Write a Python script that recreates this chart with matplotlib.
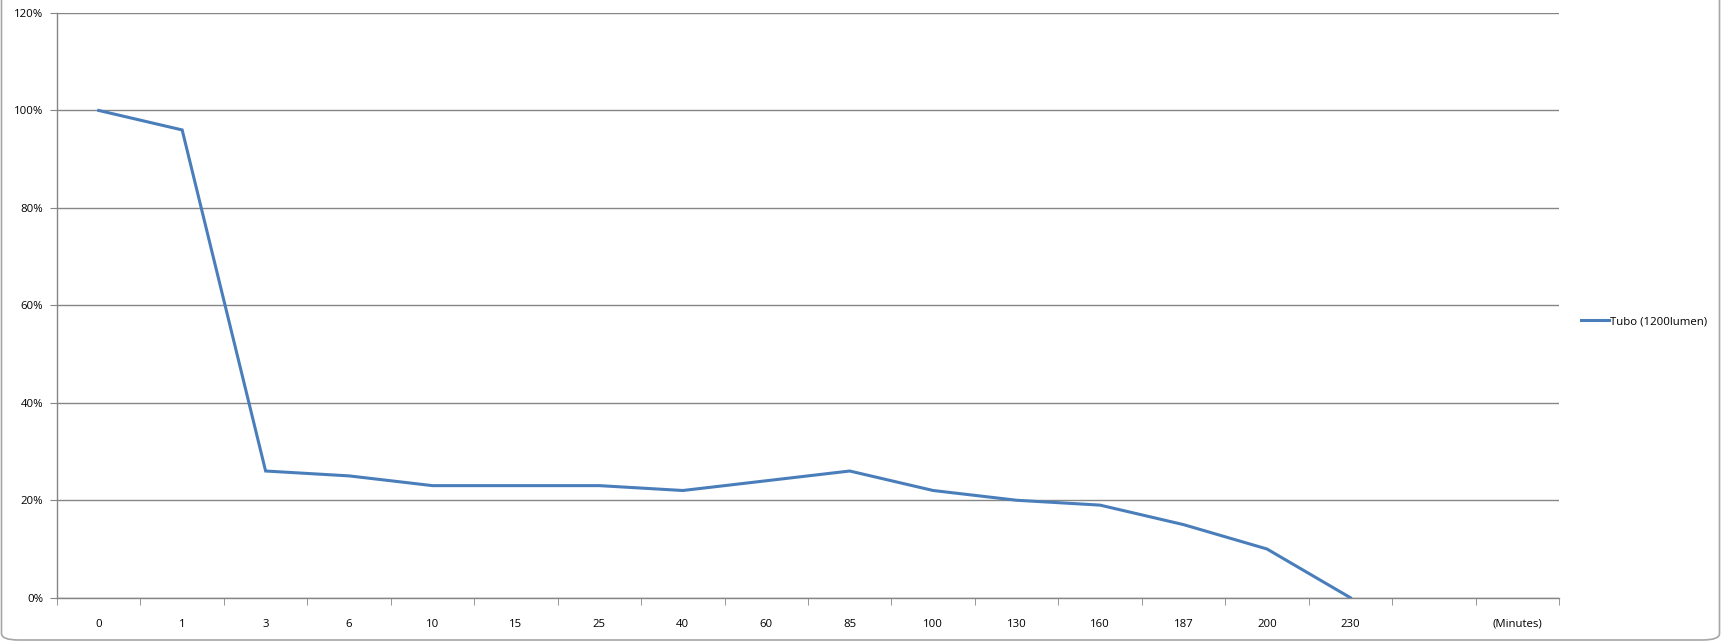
import numpy as np
import matplotlib.pyplot as plt
from matplotlib.patches import FancyBboxPatch

# categories (last two slots: an empty one and the unit label)
minutes = ['0', '1', '3', '6', '10', '15', '25', '40', '60', '85',
           '100', '130', '160', '187', '200', '230', '', '(Minutes)']
tubo = [100, 96, 26, 25, 23, 23, 23, 22, 24, 26, 22, 20, 19, 15, 10, 0]

plt.rcParams['font.family'] = ['Open Sans', 'DejaVu Sans']
plt.rcParams['font.size'] = 8.2

fig = plt.figure(figsize=(17.23, 6.42), dpi=100)
ax = fig.add_axes([57/1723, 1 - 597.7/642, (1559 - 57)/1723, (597.7 - 13)/642])

grey = '#868686'
x = np.arange(len(tubo))
ax.plot(x, tubo, color='#4a7ebb', linewidth=2.2, label='Tubo (1200lumen)',
        solid_joinstyle='miter', zorder=3)

ax.set_xlim(-0.5, len(minutes) - 0.5)
ax.set_ylim(0, 120)
ax.set_yticks(np.arange(0, 121, 20))
ax.set_yticklabels(['%d%%' % v for v in range(0, 121, 20)])
ax.yaxis.grid(True, color=grey, linewidth=1.0)
ax.set_axisbelow(True)

ax.set_xticks(np.arange(len(minutes)))
ax.set_xticklabels(minutes)
ax.set_xticks(np.arange(len(minutes) + 1) - 0.5, minor=True)
ax.tick_params(axis='x', which='major', length=0, pad=15)
ax.tick_params(axis='x', which='minor', length=5, color=grey, direction='out')
ax.tick_params(axis='y', length=5, color=grey, direction='out', pad=5)

for s in ['top', 'right']:
    ax.spines[s].set_visible(False)
for s in ['left', 'bottom']:
    ax.spines[s].set_color(grey)
    ax.spines[s].set_linewidth(1.0)

leg = ax.legend(loc='center left', bbox_to_anchor=(1.008, 0.472), frameon=False,
                handlelength=2.4, handletextpad=0.1, fontsize=8.2)

# chart area border
fig.patches.append(FancyBboxPatch((1.5/1723, 2/642), 1718/1723, 660/642,
                                  boxstyle='round,pad=0,rounding_size=0.01',
                                  transform=fig.transFigure, fill=False,
                                  edgecolor='#a6a6a6', linewidth=1.2, clip_on=False))

fig.savefig('out.png', dpi=100)
